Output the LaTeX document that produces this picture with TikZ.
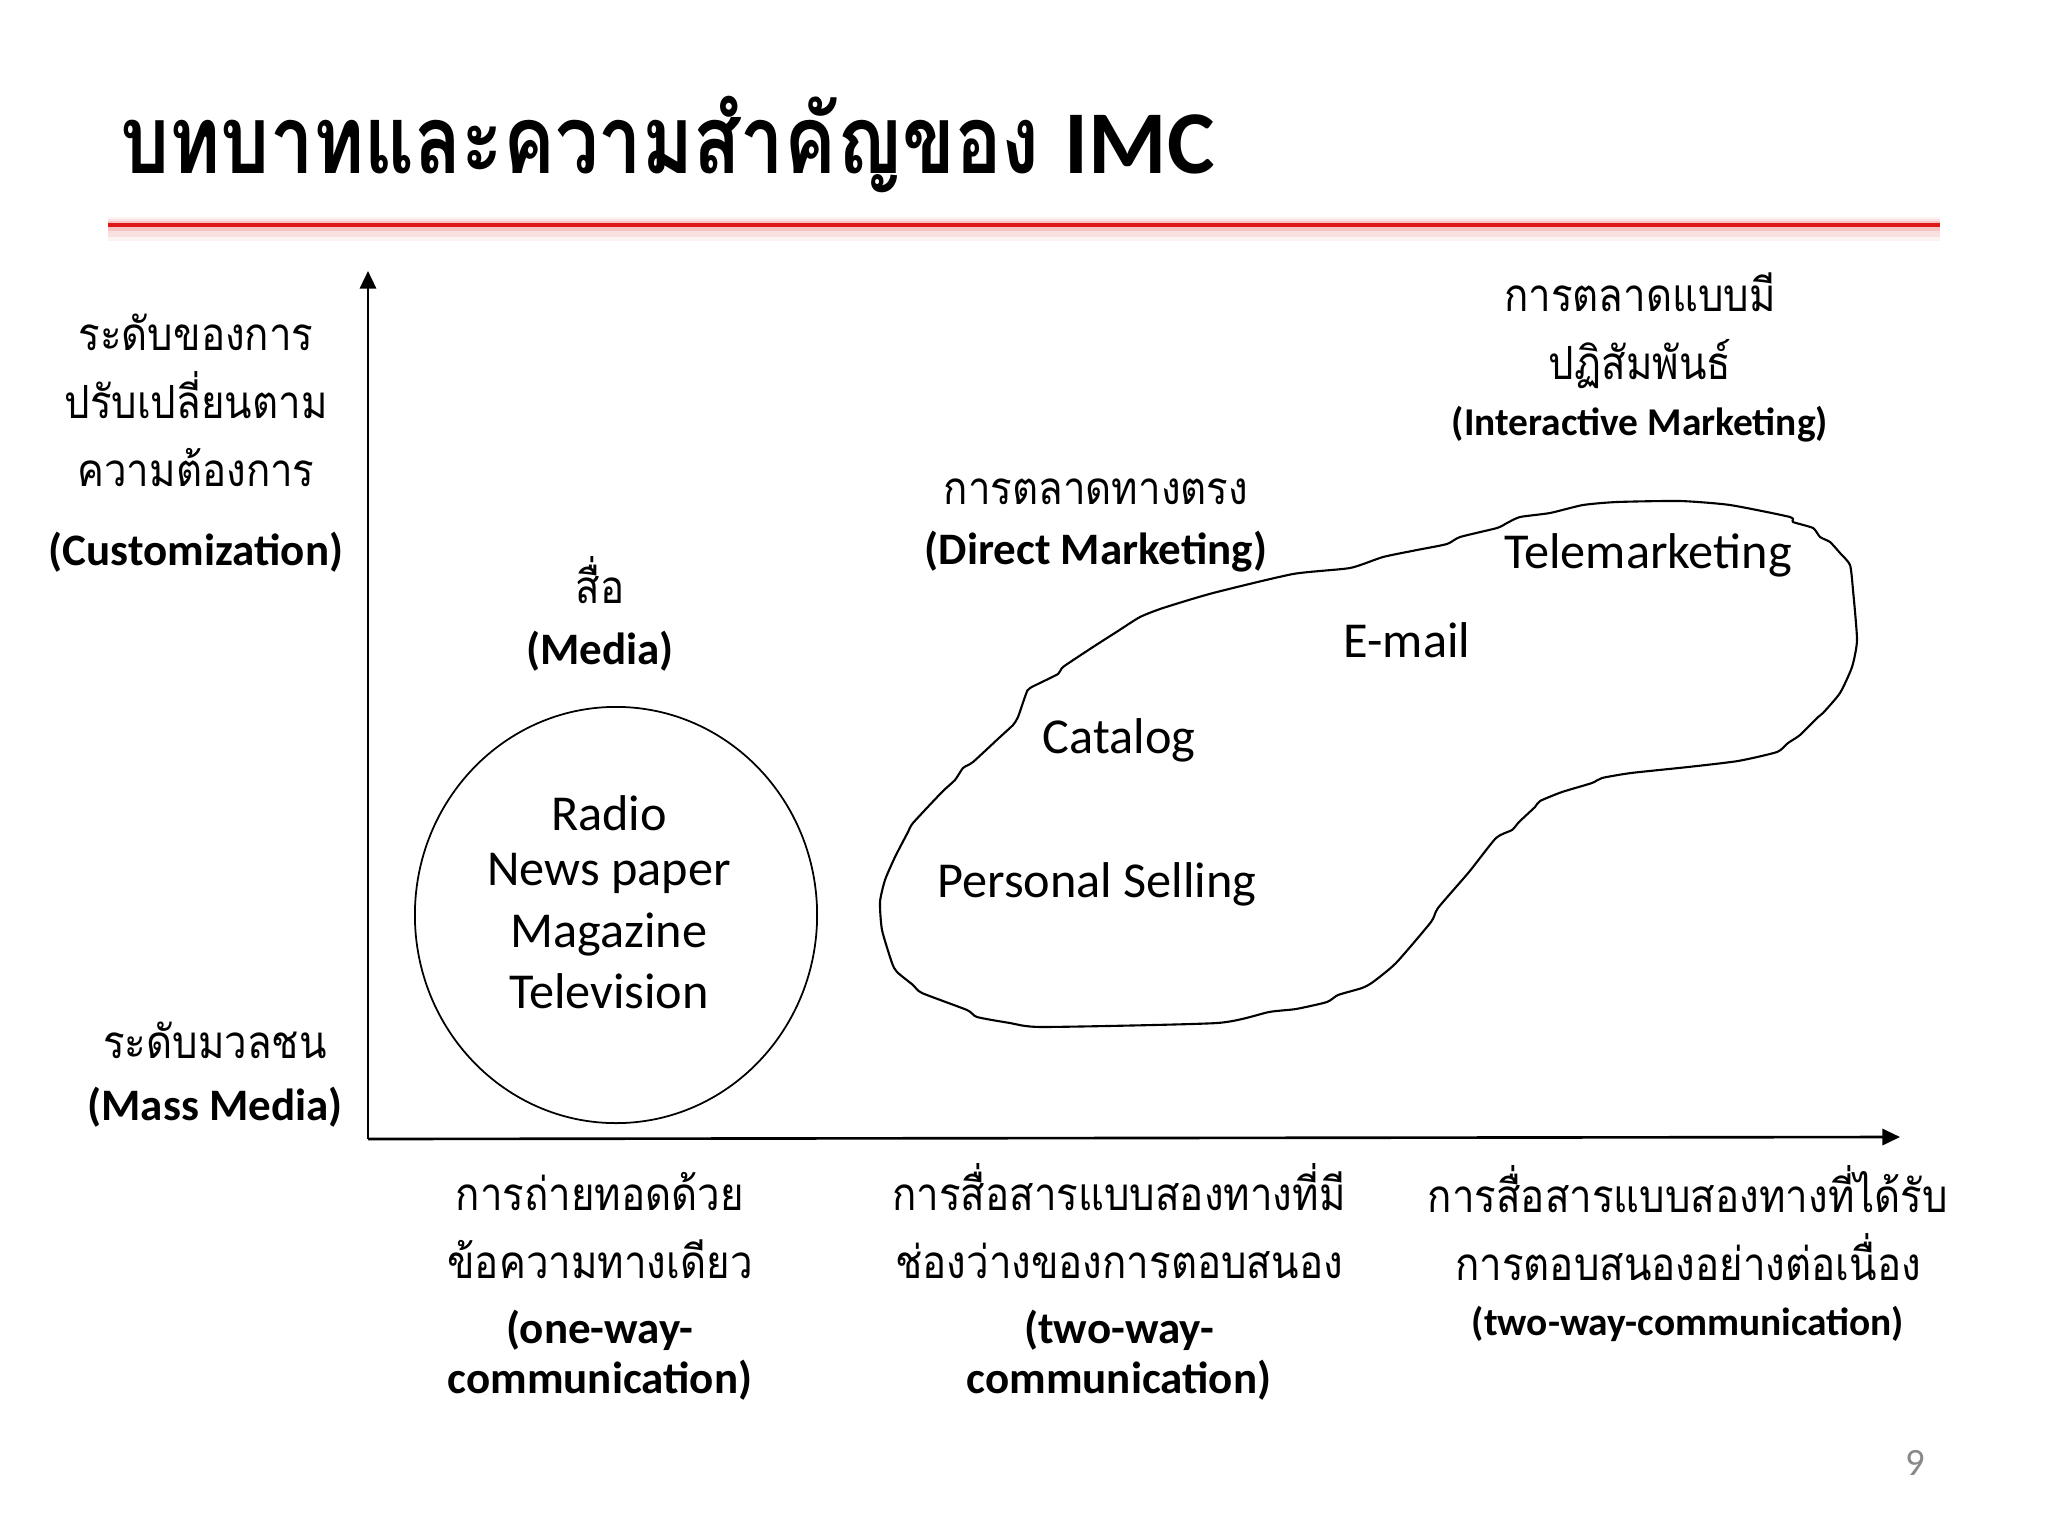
\documentclass[tikz,border=0pt]{standalone}
\usepackage{fontspec}
\usepackage{graphicx}
\setmainfont{Carlito}
\newfontfamily\thai[Script=Thai,FakeStretch=0.88]{Loma}
\newfontfamily\thaititle[Script=Thai]{Loma}
\usetikzlibrary{arrows.meta,shapes.geometric}
\definecolor{pgnum}{RGB}{137,137,137}
\definecolor{rline}{RGB}{222,24,24}
\tikzset{
  thaitxt/.style={font=\thai\fontsize{13}{16}\selectfont, anchor=base, inner sep=0pt},
  lab/.style={font=\bfseries\fontsize{12.8}{15}\selectfont, anchor=base, inner sep=0pt},
  labs/.style={font=\bfseries\fontsize{11.2}{14}\selectfont, anchor=base, inner sep=0pt},
  item/.style={font=\fontsize{14.3}{17}\selectfont, anchor=base, inner sep=0pt},
  axis/.style={line width=0.75pt, -{Triangle[length=5pt,width=4.6pt]}},
  blob/.style={line width=0.6pt, line join=round},
}
\begin{document}
\begin{tikzpicture}[x=0.01cm,y=-0.01cm]
\useasboundingbox[fill=white] (0,0) rectangle (2048,1536);
% title
\node[anchor=base west, inner sep=0pt, font=\thaititle\bfseries\fontsize{27}{30}\selectfont] (title) at (120,173) {\resizebox{9.18cm}{\height}{บทบาทและความสำคัญของ}};
\node[anchor=base west, inner sep=0pt, font=\bfseries\fontsize{25.5}{30}\selectfont] (titleimc) at (1064,173) {IMC};
% red rule
\coordinate (rl) at (108,225);
\coordinate (rr) at (1940,225);
\draw[rline, line width=7pt, opacity=0.05] ([yshift=-0.04cm]rl) -- ([yshift=-0.04cm]rr);
\draw[rline, line width=5pt, opacity=0.08] ([yshift=-0.03cm]rl) -- ([yshift=-0.03cm]rr);
\draw[rline, line width=3pt, opacity=0.14] ([yshift=-0.01cm]rl) -- ([yshift=-0.01cm]rr);
\draw[rline, line width=1pt] (rl) -- (rr);
% axes
\coordinate (O) at (368,1139);
\coordinate (ytop) at (368,271);
\coordinate (xend) at (1900,1137);
\draw[axis] (O) -- (ytop);
\draw[axis] (O) -- (xend);
% y labels
\node[thaitxt] (yl1) at (196,350) {ระดับของการ};
\node[thaitxt] (yl2) at (196,418) {ปรับเปลี่ยนตาม};
\node[thaitxt] (yl3) at (196,486) {ความต้องการ};
\node[lab] (yl4) at (196,565) {(Customization)};
\node[thaitxt] (yl5) at (215,1058) {ระดับมวลชน};
\node[lab] (yl6) at (215,1120) {(Mass Media)};
% media
\node[thaitxt] (m1) at (600,603) {สื่อ};
\node[lab] (m2) at (600,664) {(Media)};
\node[draw, ellipse, line width=0.5pt, minimum width=4.02cm, minimum height=4.16cm, inner sep=0pt] (media) at (616,915) {};
\node[item] (radio) at (609,830) {Radio};
\node[item] (news) at (609,885) {News paper};
\node[item] (mag) at (609,947) {Magazine};
\node[item] (tv) at (609,1008) {Television};
% direct marketing
\node[thaitxt] (d1) at (1096,504) {การตลาดทางตรง};
\node[lab] (d2) at (1096,564) {(Direct Marketing)};
% interactive
\node[thaitxt] (i1) at (1640,311) {การตลาดแบบมี};
\node[thaitxt] (i2) at (1640,379) {ปฏิสัมพันธ์};
\node[labs] (i3) at (1640,435) {(Interactive Marketing)};
% blob
\draw[blob] plot[smooth cycle, tension=0.35] coordinates {
(880,902) (885,880) (895,857) (908,832) (913,823) (942,792) (955,780) (963,768)
(973,762) (1000,737) (1013,725) (1018,717) (1026,694) (1030,688) (1058,674) (1063,667)
(1093,647) (1118,631) (1140,617) (1163,608) (1213,593) (1293,574) (1350,568) (1383,557)
(1417,550) (1447,544) (1460,537) (1497,528) (1507,523) (1520,517) (1550,513) (1583,505)
(1617,502) (1680,501) (1730,505) (1790,517) (1793,522) (1813,528) (1820,537) (1830,542)
(1840,553) (1850,565) (1853,590) (1857,640) (1852,667) (1840,693) (1823,713) (1817,718)
(1800,735) (1788,743) (1777,752) (1738,761) (1688,767) (1631,773) (1602,778) (1592,783)
(1562,792) (1540,801) (1535,807) (1519,822) (1512,830) (1496,838) (1469,872) (1438,908)
(1431,922) (1396,963) (1373,982) (1362,988) (1338,995) (1327,1002) (1296,1009) (1269,1012)
(1217,1023) (1043,1027) (1010,1023) (977,1017) (967,1010) (922,993) (913,985) (897,972)
(892,963) (882,930)};
\node[item] (tele) at (1648,568) {Telemarketing};
\node[item] (email) at (1407,657) {E-mail};
\node[item] (cat) at (1119,753) {Catalog};
\node[item] (ps) at (1097,897) {Personal Selling};
% bottom labels
\node[thaitxt] (b11) at (600,1210) {การถ่ายทอดด้วย};
\node[thaitxt] (b12) at (600,1278) {ข้อความทางเดียว};
\node[lab] (b13) at (600,1343) {(one-way-};
\node[lab] (b14) at (600,1393) {communication)};
\node[thaitxt] (b21) at (1119,1210) {การสื่อสารแบบสองทางที่มี};
\node[thaitxt] (b22) at (1119,1278) {ช่องว่างของการตอบสนอง};
\node[lab] (b23) at (1119,1343) {(two-way-};
\node[lab] (b24) at (1119,1393) {communication)};
\node[thaitxt] (b31) at (1688,1212) {การสื่อสารแบบสองทางที่ได้รับ};
\node[thaitxt] (b32) at (1688,1280) {การตอบสนองอย่างต่อเนื่อง};
\node[labs] (b33) at (1688,1335) {(two-way-communication)};
% page number
\node[anchor=base, inner sep=0pt, text=pgnum, font=\fontsize{11}{13}\selectfont] (pg) at (1915,1475) {9};
\end{tikzpicture}
\end{document}
